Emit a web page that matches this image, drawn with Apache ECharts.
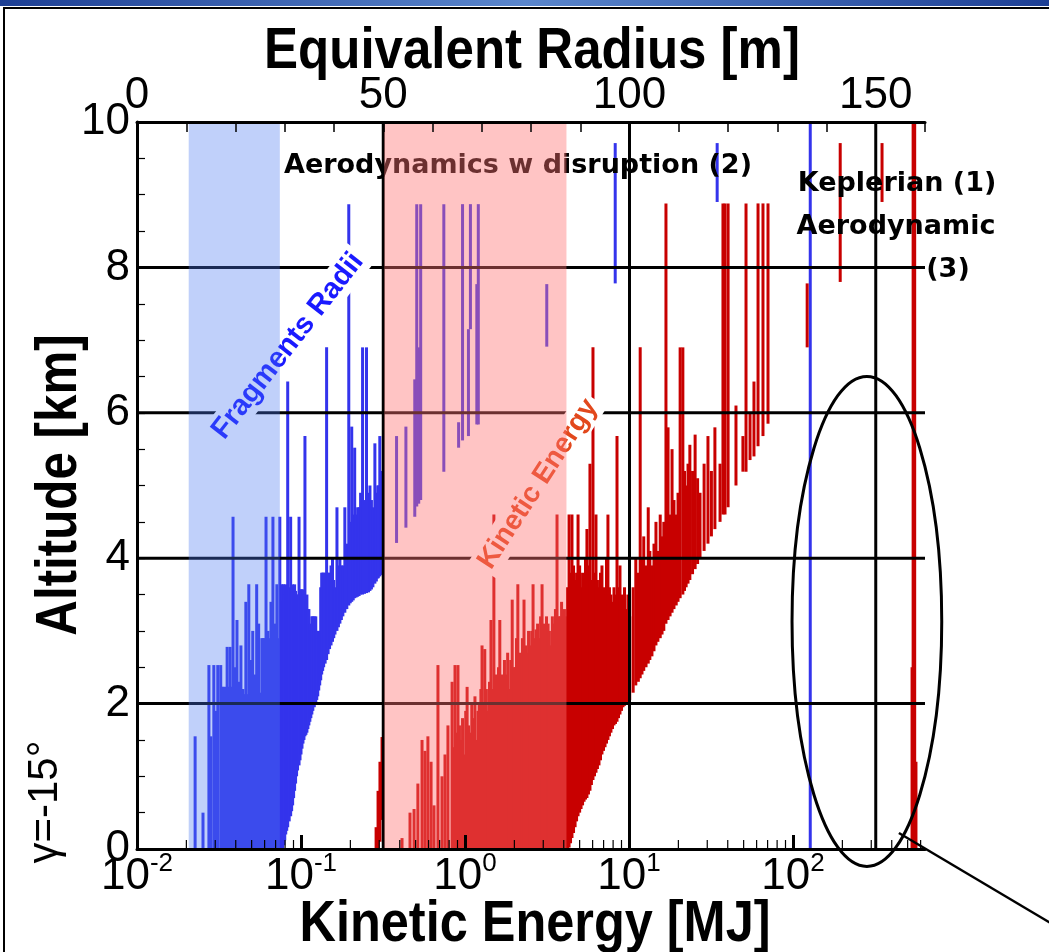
<!DOCTYPE html>
<html>
<head>
<meta charset="utf-8">
<script src="https://cdn.jsdelivr.net/npm/echarts@6/dist/echarts.min.js"></script>
<style>
  html, body { margin: 0; padding: 0; background: #fff; }
  #chart { width: 1049px; height: 952px; }
</style>
</head>
<body>
<div id="chart"></div>
<script>
// fragment radii: [radius m, lowest altitude km, highest altitude km]
const radiusBars = [
  [11.8, 0, 1.55], [13.4, 0, 0.5], [14.6, 0, 2.53], [15.0, 0, 1.55], [15.6, 0, 2.53], [16.0, 0, 1.9], [16.4, 0, 2.53],
  [17.0, 0, 2.53], [17.2, 0, 2.23], [17.4, 0, 2.23], [17.6, 0, 2.23], [17.8, 0, 2.23], [18.1, 0, 2.23], [18.3, 0, 2.78],
  [18.5, 0, 2.23], [18.7, 0, 2.23], [18.9, 0, 2.78], [19.1, 0, 2.23], [19.3, 0, 2.23], [19.5, 0, 4.57], [19.7, 0, 2.23],
  [19.9, 0, 2.5], [20.1, 0, 2.23], [20.3, 0, 3.15], [20.5, 0, 2.23], [20.7, 0, 2.3], [20.9, 0, 2.23], [21.1, 0, 2.8],
  [21.3, 0, 2.2], [21.5, 0, 2.2], [21.8, 0, 2.13], [22.1, 0, 3.4], [22.4, 0, 2.13], [22.7, 0, 3.64], [22.9, 0, 2.13],
  [23.1, 0, 2.6], [23.3, 0, 2.13], [23.5, 0, 3.0], [23.7, 0, 2.13], [23.9, 0, 2.4], [24.1, 0, 2.13], [24.3, 0, 3.64],
  [24.5, 0, 2.13], [24.7, 0, 3.1], [24.9, 0, 2.13], [25.1, 0, 2.15], [25.35, 0, 2.9], [25.6, 0, 2.9], [25.9, 0, 2.9],
  [26.2, 0, 4.57], [26.4, 0, 2.9], [26.6, 0, 3.0], [26.9, 0, 2.9], [27.2, 0, 3.4], [27.4, 0, 2.9], [27.6, 0, 4.57],
  [27.8, 0, 2.9], [28.0, 0, 3.1], [28.2, 0, 2.9], [28.4, 0, 3.64], [28.7, 0, 2.9], [29.0, 0, 4.57],
  [29.4, 0, 3.64], [29.6, 0, 3.4], [29.8, 0.05, 3.64], [30.0, 0.12, 3.5], [30.2, 0.2, 3.64], [30.4, 0.25, 3.6],
  [30.6, 0.3, 6.43], [30.9, 0.38, 3.6], [31.2, 0.45, 4.57], [31.4, 0.52, 3.6], [31.6, 0.6, 3.64], [31.8, 0.7, 3.6],
  [32.0, 0.8, 3.64], [32.2, 0.9, 3.55], [32.4, 1.0, 3.5], [32.6, 1.08, 3.5], [32.9, 1.15, 4.57], [33.1, 1.22, 3.57],
  [33.3, 1.3, 3.57], [33.5, 1.38, 3.57], [33.7, 1.45, 3.57], [33.9, 1.5, 3.5], [34.1, 1.55, 5.68], [34.3, 1.57, 3.4],
  [34.5, 1.6, 3.5], [34.7, 1.65, 3.3], [34.9, 1.7, 3.3], [35.1, 1.75, 3.1], [35.3, 1.8, 3.0], [35.5, 1.85, 3.2],
  [35.7, 1.9, 3.2], [36.0, 1.95, 3.2], [36.3, 2.0, 3.2], [36.5, 2.05, 3.0], [36.7, 2.1, 2.9], [36.9, 2.18, 3.0],
  [37.1, 2.25, 3.0], [37.3, 2.32, 3.6], [37.5, 2.4, 3.8], [37.7, 2.45, 3.8], [37.9, 2.5, 3.8], [38.2, 2.55, 3.8],
  [38.5, 2.6, 6.9], [38.8, 2.68, 3.8], [39.1, 2.75, 3.8], [39.4, 2.8, 3.9], [39.7, 2.85, 4.0], [39.95, 2.9, 3.7],
  [40.2, 2.95, 3.6], [40.6, 3.0, 4.7], [40.9, 3.05, 3.9], [41.2, 3.1, 4.0], [41.5, 3.15, 3.9], [41.8, 3.2, 3.9],
  [42.2, 3.25, 4.7], [42.6, 3.3, 4.2], [43.0, 3.35, 8.87], [43.3, 3.38, 4.5], [43.6, 3.4, 5.81], [43.9, 3.42, 4.6],
  [44.2, 3.45, 5.52], [44.5, 3.46, 4.6], [44.8, 3.47, 4.7], [45.1, 3.48, 4.7], [45.4, 3.5, 4.9], [45.8, 3.5, 6.9],
  [46.2, 3.51, 4.8], [46.6, 3.52, 6.9], [47.0, 3.53, 4.9], [47.3, 3.55, 5.0], [47.6, 3.57, 4.8], [47.9, 3.6, 4.7],
  [48.3, 3.65, 5.58], [48.6, 3.68, 4.9], [48.9, 3.72, 5.0], [49.0, 3.73, 5.0], [49.3, 3.75, 5.68], [49.5, 3.77, 5.1],
  [49.7, 3.8, 5.2],
  [52.7, 4.21, 5.68], [54.6, 4.42, 5.81], [56.4, 4.57, 6.46], [56.8, 4.71, 8.87], [57.2, 4.75, 6.9], [57.6, 4.8, 8.87],
  [62.3, 5.19, 8.87], [65.3, 5.52, 5.87], [66.1, 5.62, 8.87], [67.3, 5.68, 7.15], [67.7, 7.15, 8.87], [69.0, 5.84, 7.77],
  [69.3, 5.84, 8.87], [83.2, 6.91, 7.77],
  [97.1, 7.78, 9.71], [117.8, 8.9, 9.71], [136.7, 0, 10]
]

// kinetic energy: [energy MJ, lowest altitude km, highest altitude km]
const energyBars = [
  [0.287, 0, 0.3], [0.295, 0, 0.8], [0.303, 0.1, 1.2], [0.312, 0.4, 1.54],
  [0.413, 0, 0.15], [0.462, 0, 0.5], [0.489, 0, 0.55], [0.516, 0, 0.9], [0.547, 0, 1.5], [0.570, 0, 1.35],
  [0.594, 0, 1.55], [0.621, 0, 1.2], [0.647, 0, 0.6], [0.684, 0, 2.53], [0.724, 0, 1.0], [0.755, 0, 1.3],
  [0.787, 0, 1.7], [0.834, 0, 2.3], [0.850, 0, 1.4], [0.869, 0, 2.53], [0.888, 0, 1.6], [0.906, 0, 2.53], [0.925, 0, 1.7],
  [0.946, 0, 1.5], [0.966, 0, 1.8], [0.986, 0, 1.3], [1.01, 0, 1.9], [1.03, 0, 2.23], [1.05, 0, 1.7], [1.07, 0, 1.6],
  [1.10, 0, 2.0], [1.12, 0, 1.8], [1.15, 0, 2.1], [1.17, 0, 1.5], [1.20, 0, 1.9], [1.22, 0, 2.0], [1.25, 0, 2.2],
  [1.27, 0, 2.8], [1.30, 0, 2.0], [1.32, 0, 2.75], [1.35, 0, 2.2], [1.38, 0, 1.9], [1.41, 0, 2.3], [1.44, 0, 3.15],
  [1.47, 0, 2.2], [1.50, 0, 4.6], [1.54, 0, 2.4], [1.57, 0, 2.2], [1.60, 0, 2.5], [1.63, 0, 3.15], [1.67, 0, 2.4],
  [1.71, 0, 2.3], [1.74, 0, 2.6], [1.78, 0, 2.4], [1.82, 0, 2.7], [1.85, 0, 2.2], [1.90, 0, 2.6], [1.94, 0, 3.43],
  [1.98, 0, 2.5], [2.02, 0, 2.5], [2.06, 0, 2.9], [2.10, 0, 3.64], [2.15, 0, 2.7], [2.19, 0, 2.6], [2.24, 0, 2.9],
  [2.29, 0, 3.43], [2.34, 0, 2.8], [2.39, 0, 2.7], [2.44, 0, 3.0], [2.49, 0, 2.8], [2.55, 0, 3.0], [2.60, 0, 3.64],
  [2.65, 0, 2.9], [2.71, 0, 3.02], [2.77, 0, 3.1], [2.83, 0, 2.9], [2.89, 0, 3.2], [2.95, 0, 3.64], [3.01, 0, 3.1],
  [3.07, 0, 3.0], [3.14, 0, 3.2], [3.21, 0, 3.1], [3.27, 0, 3.0], [3.34, 0, 2.8], [3.41, 0, 3.2], [3.49, 0, 3.1],
  [3.56, 0, 3.3], [3.64, 0, 4.6], [3.72, 0, 3.2], [3.80, 0, 3.2], [3.88, 0, 3.4], [3.96, 0, 3.1], [4.04, 0, 3.3],
  [4.13, 0, 3.2], [4.22, 0, 3.6],
  [4.31, 0.02, 4.6], [4.40, 0.08, 3.8], [4.49, 0.15, 4.6], [4.59, 0.22, 3.9], [4.69, 0.3, 3.7], [4.79, 0.38, 3.8],
  [4.89, 0.45, 4.6], [5.00, 0.5, 3.9], [5.10, 0.55, 3.6], [5.21, 0.6, 3.8], [5.32, 0.65, 3.7], [5.43, 0.68, 4.0],
  [5.54, 0.7, 4.4], [5.66, 0.75, 3.9], [5.78, 0.8, 5.3], [5.90, 0.88, 3.7], [6.03, 0.95, 6.9], [6.16, 1.0, 3.8],
  [6.29, 1.05, 4.6], [6.42, 1.1, 3.7], [6.56, 1.15, 3.6], [6.70, 1.22, 3.8], [6.84, 1.3, 3.9], [6.99, 1.35, 3.6],
  [7.14, 1.4, 3.5], [7.29, 1.45, 4.0], [7.44, 1.5, 4.6], [7.60, 1.55, 3.6], [7.76, 1.6, 3.5], [7.93, 1.65, 3.4],
  [8.10, 1.7, 3.6], [8.27, 1.72, 3.5], [8.45, 1.75, 5.68], [8.63, 1.8, 3.6], [8.81, 1.85, 3.9], [9.00, 1.9, 3.5],
  [9.19, 1.95, 3.4], [9.39, 1.97, 3.6], [9.59, 2.0, 3.3], [9.84, 2.02, 3.5],
  [10.1, 2.05, 3.2], [10.6, 2.15, 3.6], [11.0, 2.25, 4.0], [11.4, 2.3, 3.8], [11.7, 2.35, 6.9], [12.0, 2.4, 4.0],
  [12.3, 2.45, 4.3], [12.7, 2.5, 3.9], [13.1, 2.55, 4.7], [13.4, 2.6, 4.1], [13.8, 2.65, 3.9], [14.2, 2.72, 4.2],
  [14.6, 2.8, 4.5], [15.0, 2.85, 4.1], [15.5, 2.9, 4.6], [15.9, 2.95, 4.3], [16.3, 3.0, 4.5], [16.8, 3.1, 8.88],
  [17.3, 3.15, 5.8], [17.8, 3.2, 4.6], [18.3, 3.25, 5.5], [18.8, 3.3, 4.8], [19.4, 3.35, 4.6], [19.9, 3.4, 4.9],
  [20.5, 3.45, 6.9], [21.3, 3.5, 6.9], [21.8, 3.55, 5.2], [22.3, 3.6, 5.0], [22.9, 3.65, 5.3], [23.5, 3.7, 5.56],
  [24.4, 3.78, 5.2], [25.3, 3.85, 5.7], [26.2, 3.92, 5.1], [27.1, 4.0, 4.9], [28.7, 4.1, 5.3], [30.3, 4.2, 5.68],
  [31.8, 4.3, 5.2], [33.4, 4.4, 5.8], [35.9, 4.5, 5.3], [37.4, 4.6, 8.88], [38.5, 4.6, 8.88], [40.2, 4.7, 8.88],
  [44.9, 5.0, 6.1], [49.5, 5.19, 5.68], [51.7, 5.19, 8.88], [54.7, 5.35, 6.0], [57.8, 5.4, 6.43], [61.2, 5.54, 8.88],
  [65.6, 5.68, 8.88], [70.4, 5.85, 8.88],
  [122, 6.9, 7.78], [194, 7.8, 9.71], [349, 8.9, 9.71], [532, 0, 2.5], [540, 0, 10], [552, 0, 10], [562, 0, 1.2]
]

const shadedRadii = [[10.5, 29.0], [50.2, 87.2]]
const gridRadii = [50, 100, 150]
const gridAltitudes = [2, 4, 6, 8]
const energyMinorTicks = [
  0.02, 0.03, 0.04, 0.05, 0.06, 0.07, 0.08, 0.09,
  0.2, 0.3, 0.4, 0.5, 0.6, 0.7, 0.8, 0.9,
  2, 3, 4, 5, 6, 7, 8, 9,
  20, 30, 40, 50, 60, 70, 80, 90,
  200, 300, 400, 500, 600
]
const ellipseCenter = [148.2, 3.13]
const ellipseHalf = [15.2, 3.37]
const pointerLine = [[154.7, 0.22], [190, -1.2]]

const chart = echarts.init(document.getElementById('chart'))
const font = '"Liberation Sans", Arial, sans-serif'
const handFont = 'bold 27px "DejaVu Sans", sans-serif'
const bandFill = ['rgba(74,120,240,0.35)', 'rgba(255,115,115,0.42)']

function segments(color, width) {
  return function (params, api) {
    const top = api.coord([api.value(0), api.value(2)])
    const bottom = api.coord([api.value(0), api.value(1)])
    return {
      type: 'line',
      shape: { x1: top[0], y1: top[1], x2: bottom[0], y2: bottom[1] },
      style: { stroke: color, lineWidth: width }
    }
  }
}

const option = {
  animation: false,
  backgroundColor: '#fff',
  grid: { left: 137, top: 122, width: 788, height: 727 },
  xAxis: [
    {
      type: 'log',
      min: 0.01,
      max: 638,
      position: 'bottom',
      z: 6,
      axisLine: { lineStyle: { color: '#000', width: 3 } },
      axisTick: { inside: true, length: 14, lineStyle: { color: '#000', width: 3 } },
      axisLabel: {
        showMaxLabel: false,
        margin: 2,
        formatter: v => '{b|10}{e|' + Math.round(Math.log10(v)) + '}',
        rich: {
          b: { fontSize: 44, fontFamily: font, color: '#000' },
          e: { fontSize: 26, fontFamily: font, color: '#000', padding: [0, 0, 26, 0] }
        }
      },
      splitLine: { show: false }
    },
    {
      type: 'value',
      min: 0,
      max: 160,
      interval: 10,
      position: 'top',
      z: 6,
      axisLine: { lineStyle: { color: '#000', width: 3 } },
      axisTick: { inside: true, length: 10, lineStyle: { color: '#000', width: 1.5 } },
      axisLabel: {
        margin: 4,
        fontSize: 44,
        fontFamily: font,
        color: '#000',
        formatter: v => (v % 50 === 0 ? String(v) : '')
      },
      splitLine: { show: false }
    }
  ],
  yAxis: {
    type: 'value',
    min: 0,
    max: 10,
    interval: 0.5,
    z: 6,
    axisLine: { lineStyle: { color: '#000', width: 3 } },
    axisTick: { inside: true, length: 8, lineStyle: { color: '#000', width: 1.2 } },
    axisLabel: {
      margin: 7,
      fontSize: 44,
      fontFamily: font,
      color: '#000',
      formatter: v => (v % 2 === 0 ? String(v) : '')
    },
    splitLine: { show: false }
  },
  series: [
    {
      name: 'Fragments Radii',
      type: 'custom',
      xAxisIndex: 1,
      z: 2,
      encode: { x: 0, y: [1, 2] },
      data: radiusBars,
      renderItem: segments('#3434ec', 3)
    },
    {
      name: 'Kinetic Energy',
      type: 'custom',
      xAxisIndex: 0,
      z: 2,
      encode: { x: 0, y: [1, 2] },
      data: energyBars,
      renderItem: segments('#c80000', 3)
    },
    {
      name: 'altitude grid',
      type: 'custom',
      xAxisIndex: 1,
      z: 3,
      data: gridAltitudes.map(h => [0, h]),
      renderItem: (params, api) => {
        const a = api.coord([0, api.value(1)])
        const b = api.coord([160, api.value(1)])
        return { type: 'line', shape: { x1: a[0], y1: a[1], x2: b[0], y2: b[1] }, style: { stroke: '#000', lineWidth: 3 } }
      }
    },
    {
      name: 'radius grid',
      type: 'custom',
      xAxisIndex: 1,
      z: 3,
      data: gridRadii.map(r => [r, 0]),
      renderItem: (params, api) => {
        const a = api.coord([api.value(0), 0])
        const b = api.coord([api.value(0), 10])
        return { type: 'line', shape: { x1: a[0], y1: a[1], x2: b[0], y2: b[1] }, style: { stroke: '#000', lineWidth: 3 } }
      }
    },
    {
      name: 'energy minor ticks',
      type: 'custom',
      xAxisIndex: 0,
      z: 6,
      data: energyMinorTicks.map(v => [v, 0]),
      renderItem: (params, api) => {
        const a = api.coord([api.value(0), 0])
        return { type: 'line', shape: { x1: a[0], y1: a[1], x2: a[0], y2: a[1] - 9 }, style: { stroke: '#000', lineWidth: 1.2 } }
      }
    },
    {
      name: 'bands',
      type: 'custom',
      xAxisIndex: 1,
      z: 5,
      encode: { x: [0, 1], y: 2 },
      data: shadedRadii.map(b => [b[0], b[1], 0]),
      renderItem: (params, api) => {
        const a = api.coord([api.value(0), 10])
        const b = api.coord([api.value(1), 0])
        return {
          type: 'rect',
          shape: { x: a[0], y: a[1], width: b[0] - a[0], height: b[1] - a[1] },
          style: { fill: bandFill[params.dataIndex] }
        }
      }
    }
  ],
  graphic: [
    { type: 'rect', z: 10, shape: { x: 0, y: 0, width: 1049, height: 6 },
      style: { fill: new echarts.graphic.LinearGradient(0, 0, 1, 0, [
        { offset: 0, color: '#1d3f94' }, { offset: 0.5, color: '#5a86cc' }, { offset: 1, color: '#1d3f94' }]) } },
    { type: 'line', z: 10, shape: { x1: 3, y1: 8, x2: 1049, y2: 8 }, style: { stroke: '#000', lineWidth: 2 } },
    { type: 'line', z: 10, shape: { x1: 4, y1: 8, x2: 4, y2: 952 }, style: { stroke: '#000', lineWidth: 2 } },
    { type: 'text', z: 10, x: 532, y: 52, scaleX: 0.88,
      style: { text: 'Equivalent Radius [m]', font: 'bold 58px ' + font, fill: '#000', textAlign: 'center', textVerticalAlign: 'middle' } },
    { type: 'text', z: 10, x: 535, y: 925, scaleX: 0.87,
      style: { text: 'Kinetic Energy [MJ]', font: 'bold 58px ' + font, fill: '#000', textAlign: 'center', textVerticalAlign: 'middle' } },
    { type: 'text', z: 10, x: 60, y: 485, rotation: Math.PI / 2, scaleX: 0.85,
      style: { text: 'Altitude [km]', font: 'bold 58px ' + font, fill: '#000', textAlign: 'center', textVerticalAlign: 'middle' } },
    { type: 'text', z: 10, x: 45, y: 802, rotation: Math.PI / 2,
      style: { text: 'γ=-15°', font: '42px ' + font, fill: '#000', textAlign: 'center', textVerticalAlign: 'middle' } },
    { type: 'text', z: 4, x: 518, y: 166,
      style: { text: 'Aerodynamics w disruption (2)', font: handFont, fill: '#000', textAlign: 'center', textVerticalAlign: 'middle' } },
    { type: 'text', z: 4, x: 897, y: 184,
      style: { text: 'Keplerian (1)', font: handFont, fill: '#000', textAlign: 'center', textVerticalAlign: 'middle' } },
    { type: 'text', z: 4, x: 896, y: 227,
      style: { text: 'Aerodynamic', font: handFont, fill: '#000', textAlign: 'center', textVerticalAlign: 'middle' } },
    { type: 'text', z: 4, x: 948, y: 270,
      style: { text: '(3)', font: handFont, fill: '#000', textAlign: 'center', textVerticalAlign: 'middle' } },
    { type: 'text', z: 4, x: 288, y: 346, rotation: 52 * Math.PI / 180,
      style: { text: 'Fragments Radii', font: 'bold 29px ' + font, fill: '#1a1aff', textAlign: 'center', textVerticalAlign: 'middle',
        backgroundColor: '#fff', padding: [2, 4] } },
    { type: 'text', z: 4, x: 538, y: 484, rotation: 57 * Math.PI / 180,
      style: { text: 'Kinetic Energy', font: 'bold 28px ' + font, fill: '#e2481c', textAlign: 'center', textVerticalAlign: 'middle',
        backgroundColor: '#fff', padding: [2, 4] } }
  ]
}

chart.setOption(option)

// ellipse around the far-right fragments, placed in data coordinates
const toPx = p => [
  chart.convertToPixel({ xAxisIndex: 1 }, p[0]),
  chart.convertToPixel({ yAxisIndex: 0 }, p[1])
]
const c = toPx(ellipseCenter)
const edge = toPx([ellipseCenter[0] + ellipseHalf[0], ellipseCenter[1] + ellipseHalf[1]])
const p0 = toPx(pointerLine[0])
const p1 = toPx(pointerLine[1])
chart.setOption({
  graphic: option.graphic.concat([
    { type: 'ellipse', z: 12, shape: { cx: c[0], cy: c[1], rx: edge[0] - c[0], ry: c[1] - edge[1] },
      style: { fill: 'none', stroke: '#000', lineWidth: 3 } },
    { type: 'line', z: 12, shape: { x1: p0[0], y1: p0[1], x2: p1[0], y2: p1[1] },
      style: { stroke: '#000', lineWidth: 2.5 } }
  ])
})
</script>
</body>
</html>
